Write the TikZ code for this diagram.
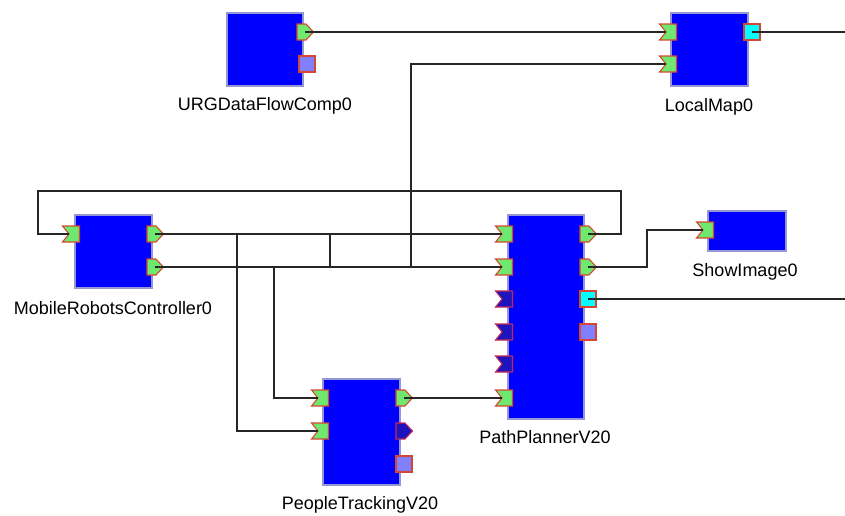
\documentclass[tikz,border=0pt]{standalone}
\usepackage{fontspec}
\setmainfont{Liberation Sans}
\definecolor{blkfill}{RGB}{0,0,255}
\definecolor{blkdraw}{RGB}{150,150,210}
\definecolor{pgreen}{RGB}{110,232,110}
\definecolor{pred}{RGB}{215,70,50}
\definecolor{dblue}{RGB}{30,20,190}
\definecolor{dred}{RGB}{190,40,90}
\definecolor{lav}{RGB}{128,128,255}
\definecolor{cyn}{RGB}{0,255,255}
\newcommand\blk[5]{\node[block,anchor=north west,minimum width={(#4-#2)*0.75pt},minimum height={(#5-#3)*0.75pt}] (#1) at (#2,#3) {};}
\newcommand\pin[4]{\begin{scope}[shift={(#2,#3)}]\draw[#4] (-8.5,-8) -- (8.5,-8) -- (8.5,8) -- (-8.5,8) -- (-2,0) -- cycle;\end{scope}\coordinate (#1) at (#2-2,#3);}
\newcommand\pout[4]{\begin{scope}[shift={(#2,#3)}]\draw[#4] (-8,-8) -- (1,-8) -- (8.5,0) -- (1,8) -- (-8,8) -- cycle;\end{scope}\coordinate (#1) at (#2,#3);}
\newcommand\psq[4]{\begin{scope}[shift={(#2,#3)}]\draw[#4] (-8,-8) rectangle (8,8);\end{scope}\coordinate (#1) at (#2,#3);}
\begin{document}
\begin{tikzpicture}[x=0.75pt,y=-0.75pt,
  block/.style={draw=blkdraw,fill=blkfill,line width=0.9pt,inner sep=0pt,outer sep=0pt},
  act/.style={draw=pred,fill=pgreen,line width=0.8pt,line join=miter},
  dead/.style={draw=dred,fill=dblue,line width=0.8pt},
  lavsq/.style={draw=pred,fill=lav,line width=0.8pt},
  cynsq/.style={draw=pred,fill=cyn,line width=0.8pt},
  wire/.style={draw=black!85,line width=1pt},
  lbl/.style={font=\fontsize{13.5}{14}\selectfont,inner sep=0pt}]
\useasboundingbox (0,0) rectangle (845,515);
% blocks
\blk{urg}{227}{13}{303}{86}
\blk{lmap}{671}{13}{748}{86}
\blk{mob}{75}{215}{152}{288}
\blk{pp}{508}{215}{584}{419}
\blk{show}{708}{211}{786}{251}
\blk{pt}{323}{379}{400}{485}
% labels
\node[lbl] (urgL) at (265,106) {URGDataFlowComp0};
\node[lbl] (lmapL) at (709,107) {LocalMap0};
\node[lbl] (mobL) at (113,308) {MobileRobotsController0};
\node[lbl] (ppL) at (545,437) {PathPlannerV20};
\node[lbl] (showL) at (745,272) {ShowImage0};
\node[lbl] (ptL) at (360,505) {PeopleTrackingV20};
% ports
\pout{urgO}{305}{32}{act}
\psq{urgS}{307}{64}{lavsq}
\pin{lmapI1}{668}{32}{act}
\pin{lmapI2}{668}{64}{act}
\psq{lmapO}{752}{32}{cynsq}
\pin{mobI}{71}{234}{act}
\pout{mobO1}{155}{234}{act}
\pout{mobO2}{155}{267}{act}
\pin{ppI1}{504}{234}{act}
\pin{ppI2}{504}{267}{act}
\pin{ppI3}{504}{299}{dead}
\pin{ppI4}{504}{332}{dead}
\pin{ppI5}{504}{364}{dead}
\pin{ppI6}{504}{398}{act}
\pout{ppO1}{588}{234}{act}
\pout{ppO2}{588}{267}{act}
\psq{ppO3}{588}{299}{cynsq}
\psq{ppO4}{588}{332}{lavsq}
\pin{showI}{705}{230}{act}
\pin{ptI1}{320}{398}{act}
\pin{ptI2}{320}{431}{act}
\pout{ptO1}{404}{398}{act}
\pout{ptO2}{404}{431}{dead}
\psq{ptO3}{404}{464}{lavsq}
% wire bend points
\coordinate (eR1) at (845,32);
\coordinate (eR2) at (845,299);
\coordinate (j411) at (411,267);
\coordinate (j330a) at (330,234);
\coordinate (j330b) at (330,267);
\coordinate (j237) at (237,234);
\coordinate (j274) at (274,267);
\coordinate (loopR) at (621,191);
\coordinate (loopL) at (38,191);
\coordinate (sx) at (647,267);
% wires
\draw[wire] (urgO) -- (lmapI1);
\draw[wire] (lmapO) -- (eR1);
\draw[wire] (mobO1) -- (ppI1);
\draw[wire] (mobO2) -- (ppI2);
\draw[wire] (j411) |- (lmapI2);
\draw[wire] (j330a) -- (j330b);
\draw[wire] (j237) |- (ptI2);
\draw[wire] (j274) |- (ptI1);
\draw[wire] (ptO1) -- (ppI6);
\draw[wire] (ppO1) -| (loopR) -- (loopL) |- (mobI);
\draw[wire] (ppO2) -- (sx) |- (showI);
\draw[wire] (ppO3) -- (eR2);
\end{tikzpicture}
\end{document}
